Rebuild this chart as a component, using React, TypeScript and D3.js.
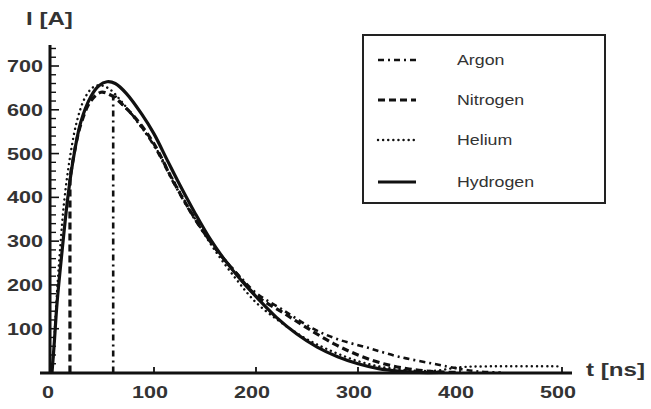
import React from 'react';
import * as d3 from 'd3';

// current pulse I [A] vs t [ns]
const hydrogen: [number, number][] = [
	[0, 0], [2, 60], [5, 160], [10, 280], [15, 390], [20, 475], [28, 570], [38, 630],
	[46, 655], [54, 664], [62, 660], [73, 637], [88, 590], [100, 545], [113, 485],
	[125, 430], [140, 365], [155, 305], [170, 255], [185, 212], [201, 171], [220, 126],
	[240, 88], [260, 58], [280, 36], [300, 20], [320, 9], [340, 3], [360, 0], [380, 0]
];
const nitrogen: [number, number][] = [
	[17.6, 0], [17.6, 440], [20, 478], [28, 565], [38, 620], [48, 640], [58, 633],
	[70, 610], [85, 572], [100, 522], [120, 432], [140, 352], [160, 284], [180, 228],
	[200, 176], [227, 136], [250, 102], [276, 66], [300, 40], [325, 20], [350, 8],
	[375, 2], [400, 0]
];
const argon: [number, number][] = [
	[60, 0], [60, 637], [69, 612], [80, 585], [100, 518], [120, 430], [140, 350],
	[160, 284], [180, 230], [200, 182], [225, 145], [256, 100], [280, 76], [309, 57],
	[340, 36], [374, 20], [400, 8], [420, 2], [440, 0]
];
const helium: [number, number][] = [
	[0, 0], [2, 65], [4, 150], [8, 285], [12, 392], [17, 482], [24, 570], [32, 626],
	[40, 651], [47, 656], [56, 648], [70, 614], [85, 568], [100, 520], [120, 435],
	[140, 352], [160, 278], [180, 215], [200, 160], [226, 112], [250, 76], [275, 48],
	[300, 26], [325, 12], [350, 5], [375, 4], [400, 12], [425, 14], [500, 14]
];

const xTicks = [0, 100, 200, 300, 400, 500];
const yTicks = [100, 200, 300, 400, 500, 600, 700];

const styles = {
	Argon: { dash: '6 4 2 4', width: 2.6, cap: 'butt' },
	Nitrogen: { dash: '7 4', width: 3.2, cap: 'butt' },
	Helium: { dash: '0.1 5', width: 2.4, cap: 'round' },
	Hydrogen: { dash: 'none', width: 3.2, cap: 'butt' }
};
const series: { name: keyof typeof styles; data: [number, number][] }[] = [
	{ name: 'Argon', data: argon },
	{ name: 'Nitrogen', data: nitrogen },
	{ name: 'Helium', data: helium },
	{ name: 'Hydrogen', data: hydrogen }
];

const W = 651;
const H = 409;
const ink = '#111';
const textInk = '#333';
const font = '"Liberation Sans", Arial, sans-serif';
const stretch = 'scale(1.27,1)';

const App = () => {
	const x = d3.scaleLinear().domain([0, 500]).range([52, 562]);
	const y = d3.scaleLinear().domain([0, 700]).range([372.5, 66]);
	const line = d3.line<[number, number]>()
		.x((d) => x(d[0]))
		.y((d) => y(d[1]))
		.curve(d3.curveCatmullRom.alpha(0.5));

	// a curve that starts with a jump is drawn as a straight riser, then the smooth part
	const pathOf = (data: [number, number][]) => {
		if (data.length > 2 && data[0][0] === data[1][0]) {
			const rest = line(data.slice(1)) || '';
			return `M${ x(data[0][0]) },${ y(data[0][1]) }L${ rest.slice(1) }`;
		}
		return line(data) || '';
	};

	const minorY = d3.range(20, 760, 20).filter((v) => v % 100 !== 0 && y(v) > 45);
	const legendRows = [60, 100, 140, 182];

	return (
		<svg width={ W } height={ H } style={ { position: 'absolute', left: 0, top: 0 } }>
			<rect width={ W } height={ H } fill="#fff"/>

			{ series.map((s) => (
				<path key={ s.name } d={ pathOf(s.data) } fill="none" stroke={ ink }
					strokeWidth={ styles[s.name].width } strokeDasharray={ styles[s.name].dash }
					strokeLinecap={ styles[s.name].cap as any } strokeLinejoin="round"/>
			)) }

			{/* axes */}
			<line x1={ 40 } x2={ 572 } y1={ 373 } y2={ 373 } stroke={ ink } strokeWidth={ 3 }/>
			<line x1={ 50 } x2={ 50 } y1={ 45 } y2={ 374 } stroke={ ink } strokeWidth={ 3 }/>
			{ yTicks.map((v) => (
				<line key={ 'yt' + v } x1={ 50 } x2={ 59 } y1={ y(v) } y2={ y(v) } stroke={ ink } strokeWidth={ 1.6 }/>
			)) }
			{ minorY.map((v) => (
				<line key={ 'ym' + v } x1={ 50 } x2={ 56 } y1={ y(v) } y2={ y(v) } stroke={ ink } strokeWidth={ 1.4 }/>
			)) }
			{ xTicks.map((v) => (
				<line key={ 'xt' + v } x1={ x(v) } x2={ x(v) } y1={ 373 } y2={ 367 } stroke={ ink } strokeWidth={ 1.8 }/>
			)) }

			{ yTicks.map((v) => (
				<text key={ 'yl' + v } transform={ `translate(43,${ y(v) + 6 }) ${ stretch }` }
					textAnchor="end" fontFamily={ font } fontWeight="bold" fontSize={ 17 } fill={ textInk }>{ v }</text>
			)) }
			{ xTicks.map((v) => (
				<text key={ 'xl' + v } transform={ `translate(${ x(v) - 4 },398) ${ stretch }` }
					textAnchor="middle" fontFamily={ font } fontWeight="bold" fontSize={ 17 } fill={ textInk }>{ v }</text>
			)) }

			<text transform={ `translate(26,25) ${ stretch }` } fontFamily={ font } fontWeight="bold"
				fontSize={ 19 } fill={ textInk }>I [A]</text>
			<text transform={ `translate(586,376) ${ stretch }` } fontFamily={ font } fontWeight="bold"
				fontSize={ 19 } fill={ textInk }>t [ns]</text>

			{/* legend */}
			<rect x={ 363 } y={ 35 } width={ 242 } height={ 168 } fill="#fff" stroke="#222" strokeWidth={ 2 }/>
			{ series.map((s, i) => (
				<g key={ 'lg' + s.name }>
					<line x1={ 378 } x2={ 416 } y1={ legendRows[i] } y2={ legendRows[i] } stroke={ ink }
						strokeWidth={ styles[s.name].width } strokeDasharray={ styles[s.name].dash }
						strokeLinecap={ styles[s.name].cap as any }/>
					<text transform={ `translate(457,${ legendRows[i] + 5 }) ${ stretch }` } fontFamily={ font }
						fontSize={ 14 } fill={ textInk }>{ s.name }</text>
				</g>
			)) }
		</svg>
	);
};

export default App;
